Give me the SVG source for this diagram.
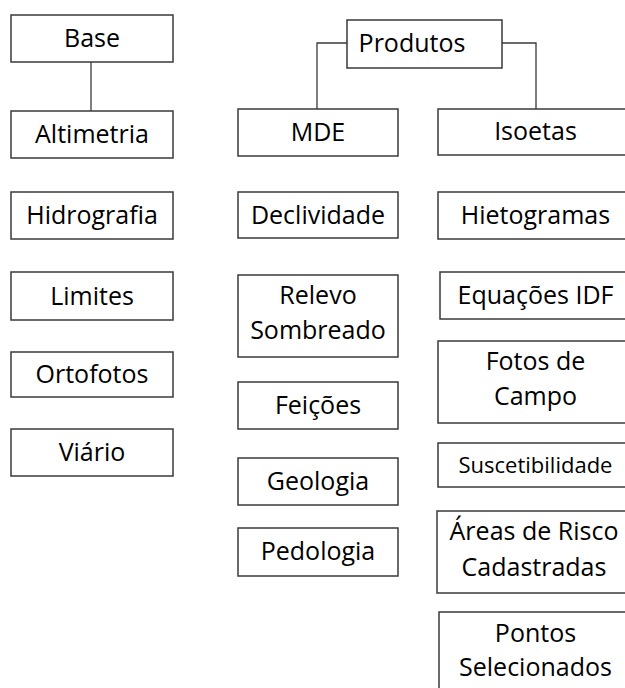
<svg xmlns="http://www.w3.org/2000/svg" width="625" height="688" viewBox="0 0 625 688">
<style>
.box{fill:#fff;stroke:#3a3a3a;stroke-width:1.5}
.t{font-family:"Open Sans","Liberation Sans",sans-serif;font-size:25px;fill:#000;text-anchor:middle}
.s{font-size:22px}
.c{fill:none;stroke:#3a3a3a;stroke-width:1.3}
</style>
<rect width="625" height="688" fill="#fff"/>
<g id="connectors">
<path class="c" d="M91,62 V111"/>
<path class="c" d="M347,43 H317 V109"/>
<path class="c" d="M502,43 H536 V109"/>
</g>
<g id="base"><rect class="box" x="11" y="15" width="162" height="47"/><text class="t" x="92" y="47">Base</text></g>
<g id="altimetria"><rect class="box" x="11" y="111" width="162" height="47"/><text class="t" x="92" y="143">Altimetria</text></g>
<g id="hidrografia"><rect class="box" x="11" y="192" width="162" height="47"/><text class="t" x="92" y="224">Hidrografia</text></g>
<g id="limites"><rect class="box" x="11" y="272" width="162" height="48"/><text class="t" x="92" y="305">Limites</text></g>
<g id="ortofotos"><rect class="box" x="11" y="352" width="162" height="45"/><text class="t" x="92" y="383">Ortofotos</text></g>
<g id="viario"><rect class="box" x="11" y="429" width="162" height="47"/><text class="t" x="92" y="461">Viário</text></g>
<g id="produtos"><rect class="box" x="347" y="20" width="155" height="48"/><text class="t" x="412" y="52">Produtos</text></g>
<g id="mde"><rect class="box" x="238" y="109" width="160" height="47"/><text class="t" x="318" y="141">MDE</text></g>
<g id="declividade"><rect class="box" x="238" y="192" width="160" height="46"/><text class="t" x="318" y="224">Declividade</text></g>
<g id="relevo"><rect class="box" x="238" y="275" width="160" height="82"/><text class="t" x="318" y="304">Relevo</text><text class="t" x="318" y="339">Sombreado</text></g>
<g id="feicoes"><rect class="box" x="238" y="382" width="160" height="47"/><text class="t" x="318" y="414">Feições</text></g>
<g id="geologia"><rect class="box" x="238" y="458" width="160" height="47"/><text class="t" x="318" y="490">Geologia</text></g>
<g id="pedologia"><rect class="box" x="238" y="528" width="160" height="48"/><text class="t" x="318" y="560">Pedologia</text></g>
<g id="isoetas"><rect class="box" x="438" y="109" width="200" height="46"/><text class="t" x="535.5" y="140">Isoetas</text></g>
<g id="hietogramas"><rect class="box" x="438" y="192" width="200" height="47"/><text class="t" x="535.5" y="224">Hietogramas</text></g>
<g id="equacoes"><rect class="box" x="440" y="272" width="200" height="47"/><text class="t" x="535.5" y="304">Equações IDF</text></g>
<g id="fotos"><rect class="box" x="438" y="341" width="200" height="82"/><text class="t" x="535.5" y="370">Fotos de</text><text class="t" x="535.5" y="405">Campo</text></g>
<g id="suscetibilidade"><rect class="box" x="438" y="443" width="200" height="44"/><text class="t s" x="535.5" y="473">Suscetibilidade</text></g>
<g id="areas"><rect class="box" x="437" y="511" width="200" height="82"/><text class="t" x="534" y="540">Áreas de Risco</text><text class="t" x="534" y="576">Cadastradas</text></g>
<g id="pontos"><rect class="box" x="439" y="612" width="200" height="90"/><text class="t" x="535.5" y="642">Pontos</text><text class="t" x="535.5" y="676">Selecionados</text></g>
</svg>
